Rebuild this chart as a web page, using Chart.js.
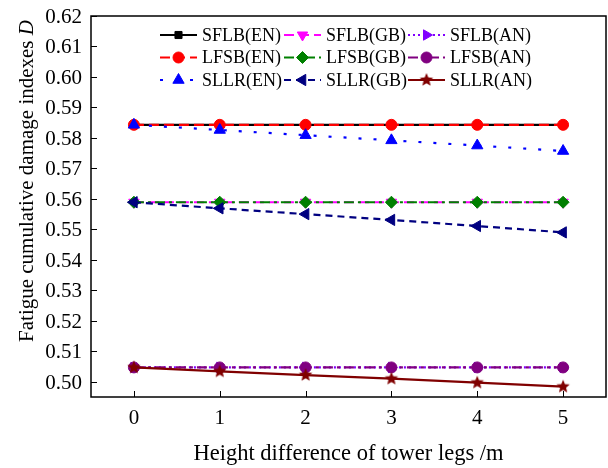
<!DOCTYPE html>
<html>
<head>
<meta charset="utf-8">
<script src="https://cdn.jsdelivr.net/npm/chart.js@4/dist/chart.umd.min.js"></script>
<style>
  html,body{margin:0;padding:0;background:#fff;}
  #wrap{width:608px;height:468px;position:relative;}
</style>
</head>
<body>
<div id="wrap"><canvas id="c" width="608" height="468"></canvas></div>
<script>
// data
const heights = [0, 1, 2, 3, 4, 5];
const yTicks  = [0.50, 0.51, 0.52, 0.53, 0.54, 0.55, 0.56, 0.57, 0.58, 0.59, 0.60, 0.61, 0.62];

const sflbEN = [0.5843, 0.5843, 0.5843, 0.5843, 0.5843, 0.5843];
const sflbGB = [0.5589, 0.5589, 0.5589, 0.5589, 0.5589, 0.5589];
const sflbAN = [0.5047, 0.5047, 0.5047, 0.5047, 0.5047, 0.5047];
const lfsbEN = [0.5843, 0.5843, 0.5843, 0.5843, 0.5843, 0.5843];
const lfsbGB = [0.5589, 0.5589, 0.5589, 0.5589, 0.5589, 0.5589];
const lfsbAN = [0.5047, 0.5047, 0.5047, 0.5047, 0.5047, 0.5047];
const sllrEN = [0.5843, 0.5826, 0.5809, 0.5792, 0.5775, 0.5757];
const sllrGB = [0.5589, 0.5569, 0.5550, 0.5531, 0.5511, 0.5490];
const sllrAN = [0.5047, 0.5034, 0.5022, 0.5010, 0.4997, 0.4984];

const serif = '"Liberation Serif", "Times New Roman", serif';

// filled star marker
function makeStar(color, r) {
  const cv = document.createElement('canvas');
  cv.width = cv.height = r * 2 + 2;
  const g = cv.getContext('2d');
  g.fillStyle = color;
  g.beginPath();
  for (let i = 0; i < 10; i++) {
    const a = -Math.PI/2 + i * Math.PI / 5;
    const rr = i % 2 ? r * 0.45 : r;
    g.lineTo(r + 1 + rr * Math.cos(a), r + 1 + rr * Math.sin(a));
  }
  g.closePath();
  g.fill();
  return cv;
}
const star = makeStar('#800000', 7);

const series = [
  { label:'SFLB(EN)', data:sflbEN, color:'#000000', dash:[],          style:'rect',     rot:0,   r:5 },
  { label:'SFLB(GB)', data:sflbGB, color:'#ff00ff', dash:[10,5],      style:'triangle', rot:180, r:6 },
  { label:'SFLB(AN)', data:sflbAN, color:'#8000ff', dash:[2,3],       style:'triangle', rot:90,  r:6 },
  { label:'LFSB(EN)', data:lfsbEN, color:'#ff0000', dash:[10,5],      style:'circle',   rot:0,   r:5.5 },
  { label:'LFSB(GB)', data:lfsbGB, color:'#008000', dash:[10,4,3,4],  style:'rectRot',  rot:0,   r:6 },
  { label:'LFSB(AN)', data:lfsbAN, color:'#800080', dash:[10,4,3,4],  style:'circle',   rot:0,   r:5.5 },
  { label:'SLLR(EN)', data:sllrEN, color:'#0000ff', dash:[3,12],      style:'triangle', rot:0,   r:6.5 },
  { label:'SLLR(GB)', data:sllrGB, color:'#000080', dash:[7,5],       style:'triangle', rot:-90, r:6.5 },
  { label:'SLLR(AN)', data:sllrAN, color:'#800000', dash:[],          style:star,       rot:0,   r:7 },
];

const datasets = series.map((s, i) => ({
  label: s.label,
  data: s.data.map((v, j) => ({ x: heights[j], y: v })),
  borderColor: s.color,
  backgroundColor: s.color,
  borderWidth: 2.2,
  borderDash: s.dash,
  pointStyle: s.style,
  pointRotation: s.rot,
  pointRadius: s.r,
  pointBorderWidth: 1,
  pointBorderColor: s.color,
  pointBackgroundColor: s.color,
  order: series.length - i,
  tension: 0,
}));

function drawMarker(ctx, s, x, y) {
  ctx.save();
  ctx.fillStyle = s.color;
  ctx.strokeStyle = s.color;
  ctx.lineWidth = 1;
  ctx.setLineDash([]);
  if (Chart.helpers && Chart.helpers.drawPoint) {
    Chart.helpers.drawPoint(ctx, { pointStyle: s.style, rotation: s.rot, radius: s.r, borderWidth: 1 }, x, y);
  }
  ctx.restore();
}

const framePlugin = {
  id: 'frame',
  afterDraw(chart) {
    const { ctx, chartArea: a, scales } = chart;
    ctx.save();
    ctx.strokeStyle = '#000';
    ctx.lineWidth = 1.5;
    ctx.setLineDash([]);
    ctx.strokeRect(a.left, a.top, a.right - a.left, a.bottom - a.top);
    // inward ticks
    ctx.lineWidth = 1;
    ctx.beginPath();
    yTicks.forEach(v => {
      const y = Math.round(scales.y.getPixelForValue(v)) + 0.5;
      ctx.moveTo(a.left, y); ctx.lineTo(a.left + 6, y);
    });
    heights.forEach(v => {
      const x = Math.round(scales.x.getPixelForValue(v)) + 0.5;
      ctx.moveTo(x, a.bottom); ctx.lineTo(x, a.bottom - 6);
    });
    ctx.stroke();

    // tick labels
    ctx.fillStyle = '#000';
    ctx.textBaseline = 'alphabetic';
    ctx.font = '21px ' + serif;
    ctx.textAlign = 'right';
    yTicks.forEach(v => {
      ctx.fillText(v.toFixed(2), 82, scales.y.getPixelForValue(v) + 7);
    });
    ctx.textAlign = 'center';
    heights.forEach(v => {
      ctx.fillText(String(v), scales.x.getPixelForValue(v), 424);
    });

    // axis titles
    ctx.font = '22.5px ' + serif;
    ctx.textAlign = 'center';
    ctx.fillText('Height difference of tower legs /m', (a.left + a.right) / 2, 460);

    const main = 'Fatigue cumulative damage indexes ';
    ctx.font = '21px ' + serif;
    const w1 = ctx.measureText(main).width;
    ctx.font = 'italic 21px ' + serif;
    const w2 = ctx.measureText('D').width;
    ctx.translate(33, 181);
    ctx.rotate(-Math.PI / 2);
    ctx.textAlign = 'left';
    ctx.font = '21px ' + serif;
    ctx.fillText(main, -(w1 + w2) / 2, 0);
    ctx.font = 'italic 21px ' + serif;
    ctx.fillText('D', -(w1 + w2) / 2 + w1, 0);
    ctx.restore();

    // legend, 3 columns x 3 rows
    ctx.save();
    ctx.font = '18px ' + serif;
    ctx.textBaseline = 'middle';
    ctx.textAlign = 'left';
    series.forEach((s, i) => {
      const col = i % 3, row = Math.floor(i / 3);
      const x0 = 160 + col * 124, y0 = 35 + row * 22.5;
      ctx.strokeStyle = s.color;
      ctx.lineWidth = 2.2;
      ctx.setLineDash(s.dash);
      ctx.beginPath();
      ctx.moveTo(x0, y0); ctx.lineTo(x0 + 37, y0);
      ctx.stroke();
      drawMarker(ctx, s, x0 + 18.5, y0);
      ctx.fillStyle = '#000';
      ctx.fillText(s.label, x0 + 42, y0 + 1);
    });
    ctx.restore();
  }
};

new Chart(document.getElementById('c'), {
  type: 'line',
  data: { datasets },
  options: {
    responsive: false,
    animation: false,
    layout: { autoPadding: false, padding: { top: 16, right: 2, left: 0, bottom: 0 } },
    plugins: { legend: { display: false }, tooltip: { enabled: false } },
    scales: {
      x: {
        type: 'linear', min: -0.5, max: 5.5,
        afterBuildTicks: s => { s.ticks = heights.map(v => ({ value: v })); },
        afterFit: s => { s.height = 71; s.paddingLeft = 0; s.paddingRight = 0; },
        grid: { display: false, drawTicks: false },
        border: { display: false },
        ticks: { display: false }
      },
      y: {
        type: 'linear', min: 0.495, max: 0.62,
        afterBuildTicks: s => { s.ticks = yTicks.map(v => ({ value: v })); },
        afterFit: s => { s.width = 91; s.paddingTop = 0; s.paddingBottom = 0; },
        grid: { display: false, drawTicks: false },
        border: { display: false },
        ticks: { display: false }
      }
    }
  },
  plugins: [framePlugin]
});
</script>
</body>
</html>
